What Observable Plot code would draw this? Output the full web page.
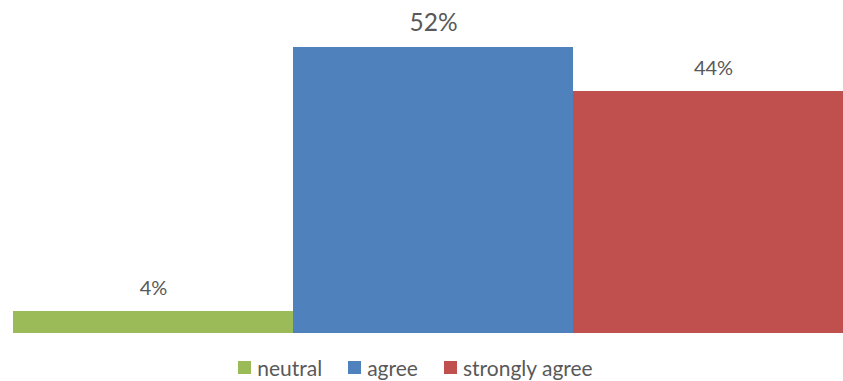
<!DOCTYPE html>
<html>
<head>
<meta charset="utf-8">
<script src="https://cdn.jsdelivr.net/npm/d3@7"></script>
<script src="https://cdn.jsdelivr.net/npm/@observablehq/plot@0.6"></script>
<style>
  body { margin: 0; background: white; font-family: Lato, "Open Sans", sans-serif; }
  #wrap { width: 843px; height: 381px; overflow: hidden; position: relative; }
  #legend { display: flex; justify-content: center; align-items: center; gap: 26px; margin-top: 12px; padding-right: 12px; font-size: 21px; color: #595959; line-height: 1; }
  .item { display: flex; align-items: center; gap: 6px; }
  .sw { width: 13px; height: 13px; display: inline-block; }
</style>
</head>
<body>
<div id="wrap"></div>
<script>
const categories = ["neutral", "agree", "strongly agree"];
const values = [4, 52, 44];
const labels = ["4%", "52%", "44%"];
const colors = ["#9BBB59", "#4F81BD", "#C0504D"];

const data = categories.map((c, i) => ({cat: c, i, value: values[i], label: labels[i]}));

const chart = Plot.plot({
  width: 843,
  height: 345,
  marginTop: 3,
  marginBottom: 12,
  marginLeft: 0,
  marginRight: 0,
  style: {fontFamily: "Lato, 'Open Sans', sans-serif", overflow: "hidden"},
  x: {domain: [0, categories.length], range: [13, 853], axis: null},
  y: {domain: [0, 60], axis: null},
  color: {domain: categories, range: colors},
  marks: [
    Plot.rectY(data, {x1: "i", x2: d => d.i + 1, y1: 0, y2: "value", fill: "cat"}),
    Plot.text(data, {
      x: d => d.i + 0.5, y: "value", text: "label",
      lineAnchor: "bottom",
      dy: -17,
      fill: "#595959",
      fontSize: d => d.cat === "agree" ? 24.5 : 20
    })
  ]
});
document.getElementById("wrap").appendChild(chart);

const legend = document.createElement("div");
legend.id = "legend";
categories.forEach((c, i) => {
  const it = document.createElement("div");
  it.className = "item";
  const sw = document.createElement("span");
  sw.className = "sw";
  sw.style.background = colors[i];
  const tx = document.createElement("span");
  tx.textContent = c;
  it.appendChild(sw); it.appendChild(tx);
  legend.appendChild(it);
});
document.getElementById("wrap").appendChild(legend);
</script>
</body>
</html>
